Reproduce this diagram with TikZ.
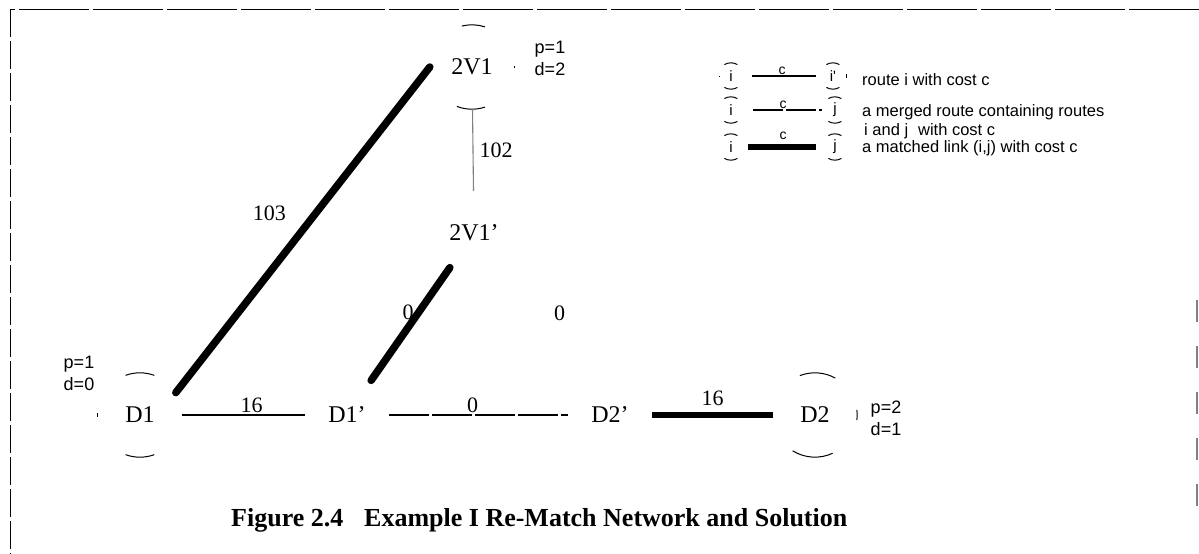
\documentclass[tikz,border=0pt]{standalone}
\usepackage{fontspec}
\usetikzlibrary{positioning}
\setmainfont{Liberation Serif}
\newfontfamily\lsans{Liberation Sans}
\begin{document}
\begin{tikzpicture}[x=1pt,y=-1pt,
  vtx/.style={circle, minimum size=84pt, inner sep=0pt, font=\fontsize{24}{28}\selectfont},
  lvtx/.style={circle, minimum size=26pt, inner sep=0pt, font=\lsans\fontsize{15}{18}\selectfont},
  arcline/.style={line width=1pt},
  routeline/.style={line width=1.1pt},
  mergedline/.style={line width=1.1pt, dash pattern=on 40pt off 3pt},
  matchline/.style={line width=7.5pt, line cap=round},
  matchbar/.style={line width=6.5pt},
  lbl/.style={font=\fontsize{22}{26}\selectfont, inner sep=2pt, text=black},
  pd/.style={font=\lsans\fontsize{18}{22}\selectfont, align=left, inner sep=0pt},
  legtext/.style={font=\lsans\fontsize{16.5}{19}\selectfont, inner sep=0pt, anchor=west},
  legc/.style={font=\lsans\fontsize{14}{16}\selectfont, inner sep=1pt}
]
\useasboundingbox (0,0) rectangle (1199,554);
\newcommand\partarc[4]{\draw[arcline] (#1.#2) arc[start angle=#2, end angle=#3, radius=#4];}

% frame
\draw[line width=1pt, dash pattern=on 70pt off 4pt] (1199,9) -- (10,9);
\draw[line width=1pt, dash pattern=on 28pt off 4pt] (10,9) -- (10,554);
\draw[gray, line width=1.6pt, dash pattern=on 22pt off 24pt] (1197,300) -- (1197,510);

% nodes
\node[vtx] (D1)  at (140,415) {D1};
\node[vtx] (D1p) at (347,415) {D1'};
\node[vtx] (D2p) at (610,415) {D2'};
\node[vtx] (D2)  at (815,415) {D2};
\node[vtx] (V)   at (472,67)  {2V1};
\node[vtx] (Vp)  at (474,233) {2V1'};

% partial circle outlines
\partarc{D1}{110}{70}{42pt}
\partarc{D1}{250}{290}{42pt}
\partarc{D1}{183}{177}{42pt}
\partarc{D2}{111}{61}{42pt}
\partarc{D2}{238}{295}{42pt}
\partarc{D2}{7}{-7}{42pt}
\partarc{V}{104}{72}{42pt}
\partarc{V}{249}{288}{42pt}
\partarc{V}{2}{-2}{42pt}

% p / d labels
\node[pd] (pdV)  at (550,58)  {p=1\\d=2};
\node[pd] (pdD1) at (79,373)  {p=1\\d=0};
\node[pd] (pdD2) at (886,418) {p=2\\d=1};

% connectors
\draw[matchline] (D1.32) -- node[lbl, pos=0.55, xshift=-46pt] {103} (V.180);
\draw[routeline, gray] (V) -- node[lbl, right=4pt] {102} (Vp);
\draw[routeline] (D1) -- node[lbl, above, xshift=8pt] {16} (D1p);
\draw[mergedline] (D1p) -- node[lbl, above, xshift=-6pt] {0} (D2p);
\draw[matchbar] (D2p) -- node[lbl, above=4pt] {16} (D2);
\draw[matchline] (D1p) -- node[lbl, pos=0.6, left=-1pt] {0} (Vp);
\path (Vp) -- node[lbl, pos=0.45, xshift=22pt, yshift=5pt] {0} (D2p);

% legend
\node[lvtx] (La) at (731,76)  {i};
\node[lvtx] (Lb) at (833,76)  {i'};
\node[lvtx] (Lc) at (731,110) {i};
\node[lvtx] (Ld) at (835,110) {j};
\node[lvtx] (Le) at (731,147) {i};
\node[lvtx] (Lf) at (835,147) {j};
\foreach \n in {La,Lb,Lc,Ld,Le,Lf}{
  \partarc{\n}{120}{60}{13pt}
  \partarc{\n}{240}{300}{13pt}
}
\draw[line width=0.8pt] (La) ++(-12,0) -- ++(1,0);
\draw[line width=0.8pt] (Lb) ++(13,-2) -- ++(0,4);
\draw[routeline, shorten <=8pt, shorten >=4pt] (La) -- node[legc, above] {c} (Lb);
\draw[routeline, dash pattern=on 30pt off 3pt, shorten <=9pt, shorten >=0pt] (Lc) -- node[legc, above] {c} (Ld);
\draw[matchbar, shorten <=4pt, shorten >=6pt] (Le) -- node[legc, above=3pt] {c} (Lf);

\node[legtext] (T1) at (862,80)  {route i with cost c};
\node[legtext] (T2) at (862,112) {a merged route containing routes};
\node[legtext] (T3) at (864,131) {i and j\hspace{0.6em}with cost c};
\node[legtext] (T4) at (862,148) {a matched link (i,j) with cost c};

% caption
\node[font=\bfseries\fontsize{26}{30}\selectfont, anchor=west, inner sep=0pt] (cap) at (231,520)
  {Figure 2.4\hspace{0.8em}Example I Re-Match Network and Solution};
\end{tikzpicture}
\end{document}
